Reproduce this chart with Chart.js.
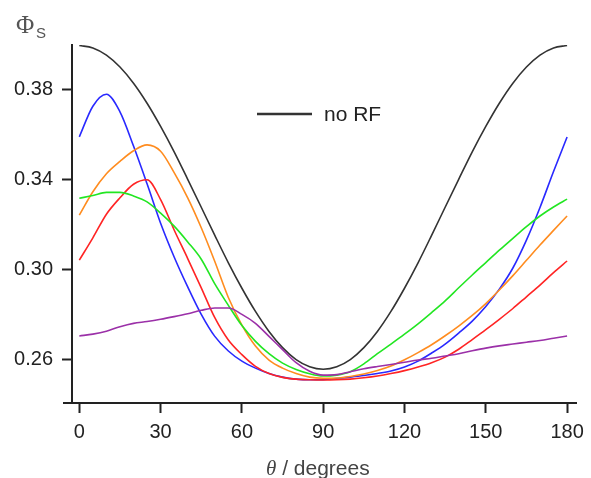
<!DOCTYPE html>
<html>
<head>
<meta charset="utf-8">
<script src="https://cdn.jsdelivr.net/npm/chart.js@4.4.0/dist/chart.umd.min.js"></script>
<style>
  body { margin: 0; background: #fff; }
  #wrap { width: 591px; height: 478px; }
</style>
</head>
<body>
<div id="wrap"><canvas id="myChart"></canvas></div>
<script>
// theta in degrees
var theta = [0,5,10,15,20,25,30,35,40,45,50,55,60,65,70,75,80,85,90,
             95,100,105,110,115,120,125,130,135,140,145,150,155,160,165,170,175,180];

var noRF = [0.3995,0.3984,0.3952,0.3899,0.3827,0.3738,0.3635,0.3522,0.3400,0.3276,0.3151,0.3029,0.2916,0.2813,0.2724,0.2652,0.2599,0.2567,0.2556,
            0.2567,0.2599,0.2652,0.2724,0.2813,0.2916,0.3029,0.3151,0.3276,0.3400,0.3522,0.3635,0.3738,0.3827,0.3899,0.3952,0.3984,0.3995];

var blue = [0.3589,0.3725,0.3778,0.3700,0.3548,0.3380,0.3205,0.3055,0.2922,0.2800,0.2702,0.2637,0.2592,0.2561,0.2537,0.2521,0.2512,0.2509,0.2510,
            0.2515,0.2521,0.2528,0.2537,0.2548,0.2566,0.2592,0.2628,0.2668,0.2717,0.2770,0.2835,0.2912,0.3006,0.3130,0.3275,0.3435,0.3588];

var orange = [0.3241,0.3345,0.3425,0.3480,0.3527,0.3553,0.3525,0.3430,0.3318,0.3185,0.3035,0.2875,0.2752,0.2659,0.2597,0.2561,0.2537,0.2521,0.2516,
              0.2517,0.2524,0.2535,0.2550,0.2570,0.2598,0.2630,0.2665,0.2705,0.2748,0.2795,0.2848,0.2908,0.2972,0.3040,0.3108,0.3173,0.3237];

var red = [0.3041,0.3140,0.3245,0.3318,0.3378,0.3398,0.3310,0.3175,0.3048,0.2918,0.2785,0.2686,0.2621,0.2569,0.2537,0.2520,0.2512,0.2509,0.2508,
           0.2509,0.2512,0.2518,0.2526,0.2537,0.2550,0.2566,0.2585,0.2610,0.2645,0.2688,0.2732,0.2778,0.2826,0.2878,0.2930,0.2985,0.3037];

var green = [0.3316,0.3328,0.3342,0.3342,0.3326,0.3300,0.3250,0.3192,0.3122,0.3045,0.2935,0.2840,0.2750,0.2680,0.2625,0.2583,0.2555,0.2536,0.2526,
             0.2530,0.2545,0.2580,0.2625,0.2668,0.2712,0.2758,0.2808,0.2860,0.2918,0.2975,0.3030,0.3085,0.3138,0.3190,0.3237,0.3277,0.3312];

var purple = [0.2704,0.2712,0.2725,0.2745,0.2760,0.2768,0.2778,0.2790,0.2803,0.2818,0.2828,0.2828,0.2800,0.2760,0.2702,0.2643,0.2585,0.2547,0.2530,
              0.2532,0.2545,0.2558,0.2568,0.2577,0.2587,0.2597,0.2605,0.2615,0.2625,0.2638,0.2650,0.2660,0.2668,0.2676,0.2684,0.2694,0.2704];

var xTicks = [0,30,60,90,120,150,180];
var yTicks = [0.26,0.30,0.34,0.38];

function pts(ys) {
    var out = [];
    for (var i = 0; i < theta.length; i++) {
        out.push({x: theta[i], y: ys[i]});
    }
    return out;
}

function line(label, ys, color) {
    return {
        label: label,
        data: pts(ys),
        borderColor: color,
        backgroundColor: color,
        borderWidth: 1.6,
        pointRadius: 0,
        fill: false,
        cubicInterpolationMode: 'monotone'
    };
}

// axis labels, legend entry and the little stub of x axis left of the y axis
var extras = {
    id: 'extras',
    afterDraw: function(chart) {
        var c = chart.ctx;
        var a = chart.chartArea;
        c.save();
        // x axis stub
        c.strokeStyle = '#222';
        c.lineWidth = 2;
        c.beginPath();
        c.moveTo(a.left - 9, a.bottom);
        c.lineTo(a.left, a.bottom);
        c.stroke();

        // y label: Phi_S
        c.fillStyle = '#555';
        c.textBaseline = 'alphabetic';
        c.textAlign = 'left';
        c.font = '25px "Liberation Serif"';
        c.fillText('\u03A6', 16, 33);
        c.font = '15px "Liberation Sans"';
        c.fillText('S', 36, 38);

        // x label
        c.fillStyle = '#444';
        c.font = 'italic 21px "Liberation Serif"';
        c.fillText('\u03B8', 266, 475);
        var w = c.measureText('\u03B8').width;
        c.font = '21px "Liberation Sans"';
        c.fillText(' / degrees', 266 + w, 475);

        // legend entry for the no RF curve
        var ds = chart.data.datasets[chart.data.datasets.length - 1];
        c.strokeStyle = ds.borderColor;
        c.lineWidth = 2.5;
        c.beginPath();
        c.moveTo(257, 114);
        c.lineTo(312, 114);
        c.stroke();
        c.fillStyle = '#222';
        c.font = '21px "Liberation Sans"';
        c.fillText(ds.label, 324, 121);
        c.restore();
    }
};

var ctx = document.getElementById("myChart").getContext("2d");
var chart = new Chart(ctx, {
    type: 'line',
    data: {
        datasets: [
            line('purple', purple, '#9b30a8'),
            line('green', green, '#22e622'),
            line('orange', orange, '#ff8c1f'),
            line('red', red, '#ff2424'),
            line('blue', blue, '#2929ff'),
            line('no RF', noRF, '#333333')
        ]
    },
    options: {
        responsive: true,
        maintainAspectRatio: false,
        animation: false,
        layout: { padding: { left: 0, top: 45, right: 13, bottom: 0 } },
        plugins: {
            legend: { display: false },
            tooltip: { enabled: false }
        },
        scales: {
            x: {
                type: 'linear',
                min: -2.7,
                max: 183.3,
                afterBuildTicks: function(s) { s.ticks = xTicks.map(function(v) { return {value: v}; }); },
                afterFit: function(s) { s.height = 75; },
                grid: { drawOnChartArea: false, drawTicks: true, tickLength: 10, tickWidth: 2, tickColor: '#222' },
                border: { display: true, color: '#222', width: 2 },
                ticks: { color: '#222', font: { family: 'Liberation Sans', size: 20 }, padding: 7, maxRotation: 0 }
            },
            y: {
                min: 0.2406,
                max: 0.3997,
                afterBuildTicks: function(s) { s.ticks = yTicks.map(function(v) { return {value: v}; }); },
                afterFit: function(s) { s.width = 72; },
                grid: { drawOnChartArea: false, drawTicks: true, tickLength: 10, tickWidth: 2, tickColor: '#222' },
                border: { display: true, color: '#222', width: 2 },
                ticks: {
                    color: '#222',
                    font: { family: 'Liberation Sans', size: 20 },
                    padding: 9,
                    callback: function(v) { return v.toFixed(2); }
                }
            }
        }
    },
    plugins: [extras]
});
</script>
</body>
</html>
